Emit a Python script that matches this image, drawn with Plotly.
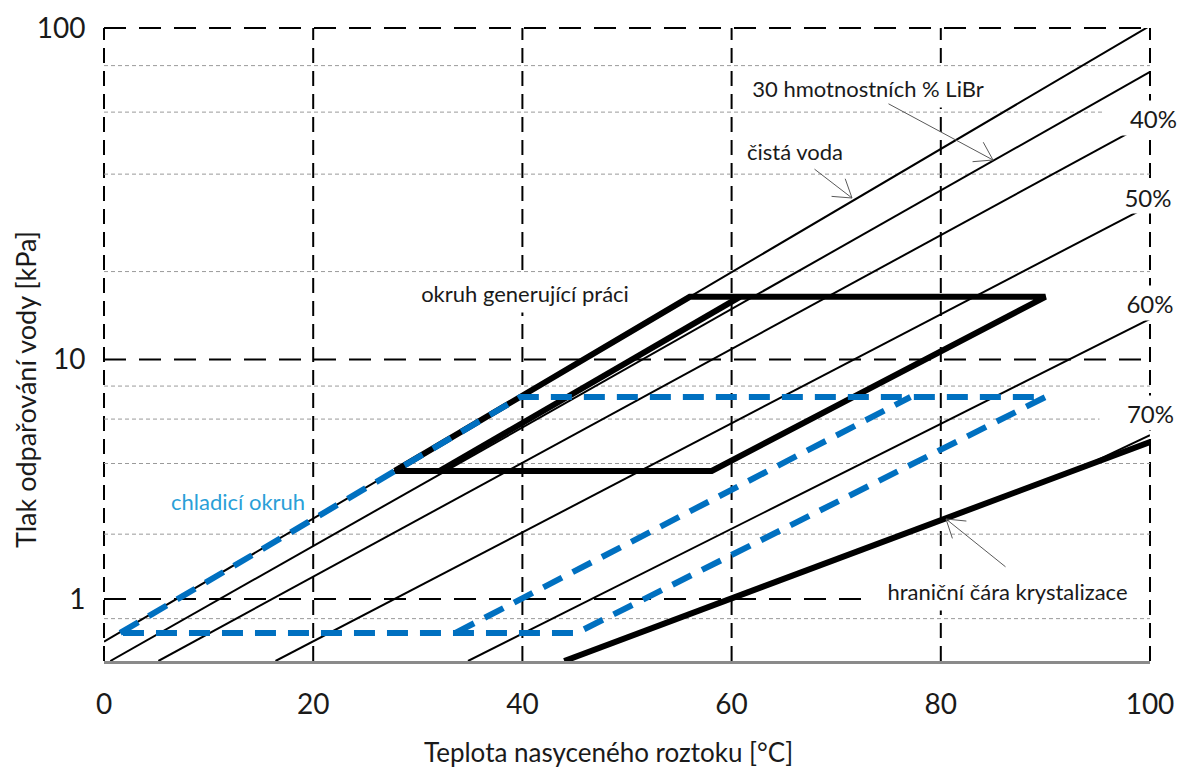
import numpy as np
import plotly.graph_objects as go

# ---------------- data ----------------
x_ticks = [0, 20, 40, 60, 80, 100]
p_major = [1, 10, 100]                       # kPa, dashed grid + labels
p_major_text = ["1", "10", "100"]
p_minor = [0.8, 2, 4, 6, 8, 20, 40, 60, 80]  # kPa, dotted grid
p_bottom = 0.485                             # kPa at lower edge

# Dühring lines: solution temperature [°C] / vapour pressure [kPa]
water_x = [0, 100];    water_p = [0.611, 101.3]
c30_x = [0.6, 100];    c30_p = [0.485, 77.0]
c40_x = [5.2, 100];    c40_p = [0.485, 56.6]
c50_x = [16.4, 100];   c50_p = [0.485, 32.3]
c60_x = [34.8, 100];   c60_p = [0.485, 13.9]
c70_x = [93.0, 100];   c70_p = [3.77, 5.19]
cryst_x = [44.0, 100]; cryst_p = [0.485, 4.88]

# work-generating cycle
work_x = [27.8, 56.0, 90.0, 58.1, 27.8]
work_p = [3.73, 16.5, 16.5, 3.73, 3.73]
work2_x = [32.1, 60.8]
work2_p = [3.73, 16.5]

# cooling cycle
cool_x = [1.55, 39.8, 90.0, 45.2, 1.55]
cool_p = [0.678, 7.28, 7.28, 0.678, 0.678]
cool2_x = [33.6, 77.1]
cool2_p = [0.678, 7.28]


def tsat(p):
    """Dühring pressure scale: saturation temperature of water (Antoine)."""
    p = np.asarray(p, dtype=float)
    return 1730.63 / (8.07131 - np.log10(p * 7.50062)) - 233.426


W, H = 1178, 769
ML, MR, MT, MB = 104, 28, 28, 108
FONT = "Lato, 'Open Sans', sans-serif"
TXT = "#1a1a1a"


def fx(px):
    return (px - ML) / (W - ML - MR)


def fy(py):
    return (H - MB - py) / (H - MT - MB)


fig = go.Figure()

# thin solution lines
for xs, ps in [(water_x, water_p), (c30_x, c30_p), (c40_x, c40_p),
               (c50_x, c50_p), (c60_x, c60_p), (c70_x, c70_p)]:
    fig.add_trace(go.Scatter(x=xs, y=tsat(ps), mode="lines",
                             line=dict(color="black", width=2),
                             hoverinfo="skip", showlegend=False))
# crystallization line
fig.add_trace(go.Scatter(x=cryst_x, y=tsat(cryst_p), mode="lines",
                         line=dict(color="black", width=6),
                         hoverinfo="skip", showlegend=False))
# work cycle
for xs, ps in [(work_x, work_p), (work2_x, work2_p)]:
    fig.add_trace(go.Scatter(x=xs, y=tsat(ps), mode="lines",
                             line=dict(color="black", width=6),
                             hoverinfo="skip", showlegend=False))
# cooling cycle
for xs, ps in [(cool_x, cool_p), (cool2_x, cool2_p)]:
    fig.add_trace(go.Scatter(x=xs, y=tsat(ps), mode="lines",
                             line=dict(color="#0070C0", width=6, dash="21px,12px"),
                             hoverinfo="skip", showlegend=False))

xmin, xmax = x_ticks[0], x_ticks[-1]
ymin, ymax = float(tsat(p_bottom)), float(tsat(p_major[-1]))

shapes = []
# vertical grid
for v in x_ticks:
    if v == xmin or v == xmax:
        xr, xv = "x domain", (0 if v == xmin else 1)
    else:
        xr, xv = "x", v
    shapes.append(dict(type="line", xref=xr, yref="y domain", x0=xv, x1=xv, y0=0, y1=1,
                       line=dict(color="black", width=2, dash="15px,8px"), layer="below"))
# minor horizontal grid
for p in p_minor:
    t = float(tsat(p))
    shapes.append(dict(type="line", xref="x domain", yref="y", x0=0, x1=1, y0=t, y1=t,
                       line=dict(color="#9a9a9a", width=1, dash="4px,3px"), layer="below"))
# major horizontal grid
for p in p_major:
    t = float(tsat(p))
    if abs(t - ymax) < 1e-9:
        yr, yv = "y domain", 1
    else:
        yr, yv = "y", t
    shapes.append(dict(type="line", xref="x domain", yref=yr, x0=0, x1=1, y0=yv, y1=yv,
                       line=dict(color="black", width=2, dash="22px,13px"), layer="below"))

ann = []


def label(text, cx, cy, size=22, w=None, h=None, color=TXT, bg="white", align="center"):
    d = dict(text=text, x=fx(cx), y=fy(cy), xref="paper", yref="paper",
             xanchor="center", yanchor="middle", showarrow=False, align=align,
             font=dict(family=FONT, size=size, color=color), borderpad=0)
    if bg:
        d["bgcolor"] = bg
    if w:
        d["width"] = w
    if h:
        d["height"] = h
    ann.append(d)


def arrow(tip, start, color="#595959", arm=22, ang=33):
    common = dict(xref="paper", yref="paper", text="", showarrow=True, arrowhead=0,
                  arrowwidth=1, arrowcolor=color, standoff=0, startstandoff=0)
    ann.append(dict(x=fx(tip[0]), y=fy(tip[1]), ax=start[0] - tip[0], ay=start[1] - tip[1], **common))
    d = np.array(start, float) - np.array(tip, float)
    u = d / np.linalg.norm(d)
    for a in (ang, -ang):
        r = np.radians(a)
        v = np.array([u[0] * np.cos(r) - u[1] * np.sin(r), u[0] * np.sin(r) + u[1] * np.cos(r)])
        ann.append(dict(x=fx(tip[0]), y=fy(tip[1]), ax=float(arm * v[0]), ay=float(arm * v[1]), **common))


label("30 hmotnostních % LiBr", 868, 88, w=250, h=38)
label("čistá voda", 795, 151, w=104, h=28)
label("40%", 1140, 118, size=24, w=74, h=34, align="right")
label("50%", 1148, 197, size=24, w=56, h=31)
label("60%", 1150, 303, size=24, w=56, h=34)
label("70%", 1137, 413, size=24, w=74, h=34, align="right")
label("okruh generující práci", 525, 293, w=232, h=38)
label("chladicí okruh", 238, 501, color="#2a9fd8", bg=None)
label("hraniční čára krystalizace", 1007, 591, w=281, h=37)

arrow((993, 160), (887, 103))
arrow((852, 198), (813, 168))
arrow((946, 519), (1007, 568))

# axis titles
ann.append(dict(text="Teplota nasyceného roztoku [°C]", x=fx(608), y=fy(752), xref="paper", yref="paper",
                showarrow=False, xanchor="center", yanchor="middle",
                font=dict(family=FONT, size=26, color=TXT)))
ann.append(dict(text="Tlak odpařování vody [kPa]", x=fx(25), y=fy(390), xref="paper", yref="paper",
                showarrow=False, xanchor="center", yanchor="middle", textangle=-90,
                font=dict(family=FONT, size=27, color=TXT)))

fig.update_layout(
    width=W, height=H,
    margin=dict(l=ML, r=MR, t=MT, b=MB, autoexpand=False),
    paper_bgcolor="white", plot_bgcolor="white",
    shapes=shapes, annotations=ann, showlegend=False,
    xaxis=dict(range=[xmin, xmax], tickvals=x_ticks, showgrid=False, zeroline=False,
               automargin=False,
               showline=True, linecolor="#8a8a8a", linewidth=3,
               ticks="outside", ticklen=16, tickcolor="rgba(0,0,0,0)",
               ticklabeloverflow="allow",
               tickfont=dict(family=FONT, size=28, color=TXT)),
    yaxis=dict(range=[ymin, ymax], tickvals=[float(v) for v in tsat(p_major)], ticktext=p_major_text,
               showgrid=False, zeroline=False, showline=False, automargin=False,
               ticks="outside", ticklen=12, tickcolor="rgba(0,0,0,0)",
               tickfont=dict(family=FONT, size=28, color=TXT)),
)

fig.write_html("out.html", config={"displayModeBar": False},
               post_script="document.body.style.margin='0px';document.body.style.overflow='hidden';")
